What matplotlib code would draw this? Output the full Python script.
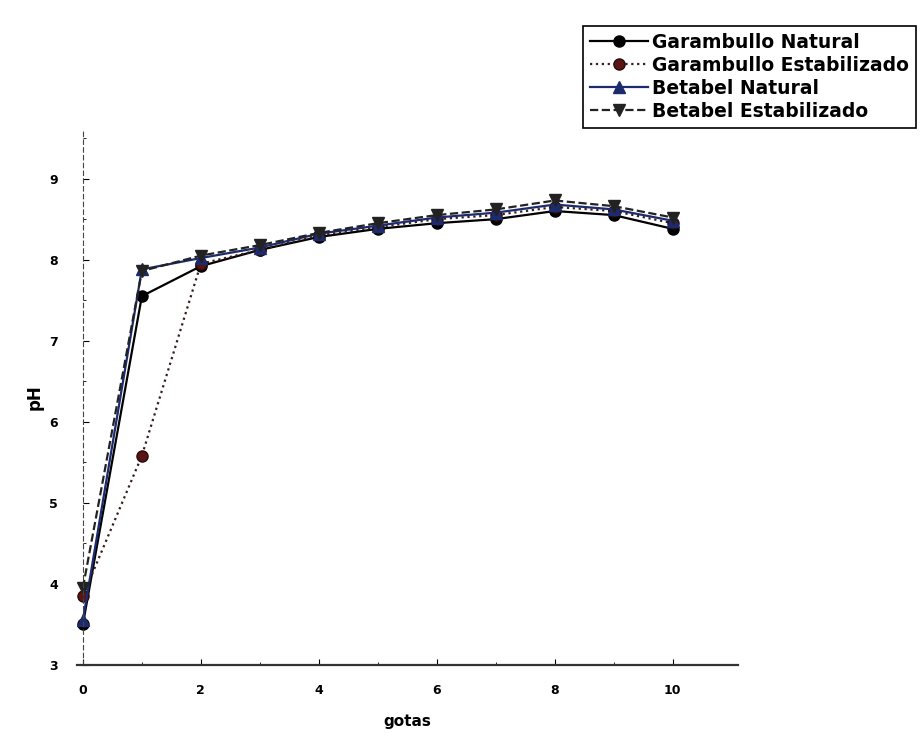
import numpy as np
import matplotlib.pyplot as plt

# gotas de base agregadas y pH medido
gotas = [0, 1, 2, 3, 4, 5, 6, 7, 8, 9, 10]
garambullo_natural = [3.5, 7.55, 7.92, 8.12, 8.28, 8.38, 8.45, 8.5, 8.6, 8.55, 8.38]
garambullo_estab = [3.85, 5.58, 7.95, 8.12, 8.3, 8.4, 8.5, 8.55, 8.65, 8.6, 8.45]
betabel_natural = [3.55, 7.88, 8.02, 8.15, 8.32, 8.42, 8.52, 8.58, 8.68, 8.62, 8.48]
betabel_estab = [3.95, 7.86, 8.05, 8.18, 8.33, 8.45, 8.55, 8.62, 8.73, 8.66, 8.52]

fig = plt.figure(figsize=(9.24, 7.41), dpi=100)
ax = fig.add_axes([0.0833, 0.1026, 0.715, 0.722])

ax.plot(gotas, garambullo_natural, '-o', color='black', lw=1.6, ms=8,
        label='Garambullo Natural')
ax.plot(gotas, garambullo_estab, ':o', color='#3a1a1a', lw=1.6, ms=8,
        mfc='#5a1414', mec='#2a0a0a', label='Garambullo Estabilizado')
ax.plot(gotas, betabel_natural, '-^', color='#1c2a6e', lw=1.6, ms=8,
        label='Betabel Natural')
ax.plot(gotas, betabel_estab, '--v', color='#222222', lw=1.6, ms=8,
        label='Betabel Estabilizado')

ax.set_xlim(-0.1, 11.1)
ax.set_ylim(3, 9.6)
ax.set_xticks([0, 2, 4, 6, 8, 10])
ax.set_yticks([3, 4, 5, 6, 7, 8, 9])
ax.set_xticks(np.arange(1, 11, 2), minor=True)
ax.set_yticks(np.arange(3.5, 9.6, 0.5), minor=True)

for s in ['top', 'right']:
    ax.spines[s].set_visible(False)
ax.spines['left'].set_position(('data', 0))
ax.spines['left'].set_linestyle((0, (4, 3)))
ax.spines['left'].set_color('#444444')
ax.spines['bottom'].set_linewidth(1.6)
ax.spines['bottom'].set_color('#333333')

ax.tick_params(axis='x', which='major', direction='in', length=4, pad=14,
               labelsize=9)
ax.tick_params(axis='y', which='major', direction='in', length=4, pad=18,
               labelsize=9)
ax.tick_params(which='minor', direction='in', length=2)
for lbl in ax.get_xticklabels() + ax.get_yticklabels():
    lbl.set_fontweight('bold')

ax.set_xlabel('gotas', fontsize=11, fontweight='bold', labelpad=12)
ax.set_ylabel('pH', fontsize=12, fontweight='bold', labelpad=4)

leg = fig.legend(loc='upper left', bbox_to_anchor=(583 / 924, 1 - 26 / 741),
                 prop={'family': 'DejaVu Sans', 'weight': 'bold', 'size': 13.5},
                 handlelength=3.1, handletextpad=0.25, labelspacing=0.22,
                 borderpad=0.35, borderaxespad=0, fancybox=False,
                 framealpha=1, edgecolor='black')
leg.get_frame().set_linewidth(1.2)

fig.savefig('out.png', dpi=100)
